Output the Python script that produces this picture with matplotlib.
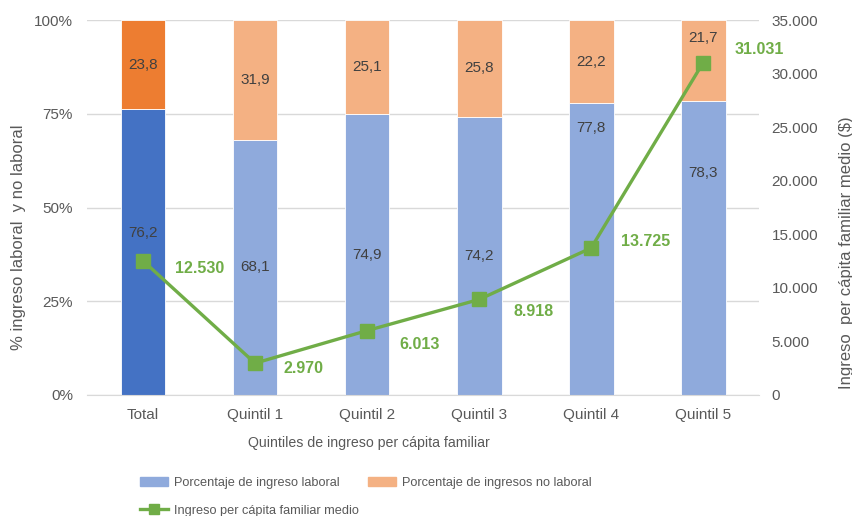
import matplotlib.pyplot as plt
from matplotlib.patches import Patch
from matplotlib.lines import Line2D
from matplotlib.ticker import FuncFormatter

plt.rcParams['font.family'] = ['Liberation Sans', 'DejaVu Sans']

# data
categorias = ['Total', 'Quintil 1', 'Quintil 2', 'Quintil 3', 'Quintil 4', 'Quintil 5']
pct_laboral = [76.2, 68.1, 74.9, 74.2, 77.8, 78.3]
pct_no_laboral = [23.8, 31.9, 25.1, 25.8, 22.2, 21.7]
ingreso_medio = [12530, 2970, 6013, 8918, 13725, 31031]

# label placement (percent units for the bars, pixel offsets for the line labels)
y_lab_laboral = [43.2, None, None, None, 71.2, 59.2]
y_lab_no_laboral = [None, None, None, None, None, 95.2]
off_ingreso = [(57, -8), (48, -5), (52, -14), (54, -12), (54, 6), (56, 13)]

azul_osc = '#4472C4'
naranja_osc = '#ED7D31'
azul = '#8FAADC'
naranja = '#F4B183'
verde = '#70AD47'
gris_txt = '#595959'
grid_col = '#D9D9D9'

fig = plt.figure(figsize=(8.53, 5.16), dpi=100)
ax = fig.add_axes([0.102, 0.2345, 0.788, 0.7265])
x = list(range(len(categorias)))

col_lab = [azul_osc] + [azul] * 5
col_nolab = [naranja_osc] + [naranja] * 5
ax.bar(x, pct_laboral, width=0.4, color=col_lab, edgecolor='white', linewidth=0.6, zorder=2)
ax.bar(x, pct_no_laboral, width=0.4, bottom=pct_laboral, color=col_nolab,
       edgecolor='white', linewidth=0.6, zorder=2)

for i in x:
    yl = y_lab_laboral[i] if y_lab_laboral[i] is not None else pct_laboral[i] / 2
    ax.text(i, yl, f'{pct_laboral[i]:.1f}'.replace('.', ','), ha='center', va='center',
            fontsize=11, color='#404040', zorder=4)
    yn = y_lab_no_laboral[i] if y_lab_no_laboral[i] is not None else pct_laboral[i] + pct_no_laboral[i] / 2
    ax.text(i, yn, f'{pct_no_laboral[i]:.1f}'.replace('.', ','), ha='center', va='center',
            fontsize=11, color='#404040', zorder=4)

ax.set_xlim(-0.5, 5.5)
ax.set_ylim(0, 100)
ax.set_yticks([0, 25, 50, 75, 100])
ax.yaxis.set_major_formatter(FuncFormatter(lambda v, p: f'{v:.0f}%'))
ax.set_xticks(x)
ax.set_xticklabels(categorias)
ax.grid(axis='y', color=grid_col, linewidth=1, zorder=0)
ax.set_axisbelow(True)
for s in ['top', 'left', 'right']:
    ax.spines[s].set_visible(False)
ax.spines['bottom'].set_color(grid_col)
ax.tick_params(axis='both', length=0, labelsize=11, colors=gris_txt)
ax.tick_params(axis='y', pad=10)
ax.tick_params(axis='x', pad=9.5)
ax.set_ylabel('% ingreso laboral  y no laboral', fontsize=12, color=gris_txt, va='center')
ax.yaxis.set_label_coords(-0.1025, 0.421)
ax.set_xlabel('Quintiles de ingreso per cápita familiar', fontsize=10.2, color=gris_txt, va='center')
ax.xaxis.set_label_coords(0.42, -0.128)

ax2 = ax.twinx()
ax2.plot(x, ingreso_medio, color=verde, linewidth=2.4, marker='s', markersize=9.5, zorder=5)
ax2.set_ylim(0, 35000)
ax2.set_yticks(range(0, 35001, 5000))
ax2.yaxis.set_major_formatter(FuncFormatter(lambda v, p: f'{v:,.0f}'.replace(',', '.')))
for s in ['top', 'left', 'right', 'bottom']:
    ax2.spines[s].set_visible(False)
ax2.tick_params(axis='y', length=0, labelsize=11, colors=gris_txt, pad=9)
ax2.set_ylabel('Ingreso  per cápita familiar medio ($)', fontsize=12, color=gris_txt, va='center')
ax2.yaxis.set_label_coords(1.13, 0.379)

for i in x:
    dx, dy = off_ingreso[i]
    ax2.annotate(f'{ingreso_medio[i]:,}'.replace(',', '.'), (i, ingreso_medio[i]),
                 xytext=(dx * 0.72, dy * 0.72), textcoords='offset points',
                 ha='center', va='center', fontsize=11.5, fontweight='bold', color=verde)

handles = [Patch(color=azul), Line2D([0], [0], color=verde, linewidth=2.4, marker='s', markersize=7),
           Patch(color=naranja)]
labels = ['Porcentaje de ingreso laboral', 'Ingreso per cápita familiar medio',
          'Porcentaje de ingresos no laboral']
fig.legend(handles, labels, ncol=2, loc='upper left', bbox_to_anchor=(0.164, 0.076),
           frameon=False, fontsize=9.2, labelcolor=gris_txt, handlelength=2.2,
           handletextpad=0.5, columnspacing=0.65, labelspacing=1.25, borderaxespad=0,
           borderpad=0)

fig.savefig('out.png', dpi=100)
